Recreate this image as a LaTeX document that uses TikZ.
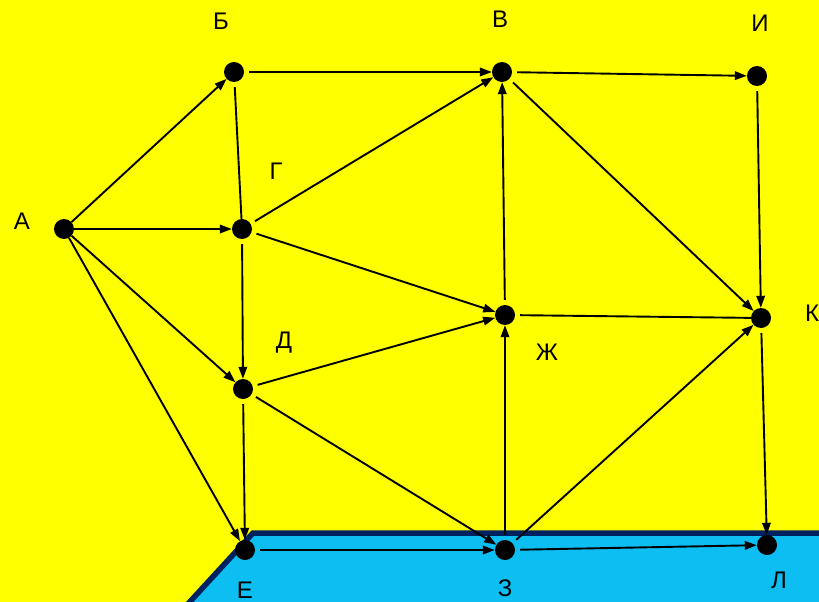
\documentclass[tikz,border=0pt]{standalone}
\usepackage{fontspec}
\setmainfont{Liberation Sans}
\usetikzlibrary{arrows.meta}
\definecolor{bgyellow}{RGB}{255,255,0}
\definecolor{seablue}{RGB}{12,190,242}
\definecolor{navy}{RGB}{0,33,95}
\begin{document}
\begin{tikzpicture}[x=1pt,y=-1pt,
  dot/.style={circle,fill=black,inner sep=0pt,minimum size=20pt},
  lbl/.style={inner sep=0pt,font=\fontsize{24}{27}\selectfont},
  arr/.style={line width=1.9pt,-{Triangle[length=12pt,width=8.5pt]},shorten <=5pt},
  arrA/.style={line width=1.9pt,-{Triangle[length=12pt,width=8.5pt]}},
  plain/.style={line width=1.9pt,shorten <=5pt}]
\fill[bgyellow] (0,0) rectangle (819,602);
\useasboundingbox (0,0) rectangle (819,602);
\filldraw[fill=seablue,draw=navy,line width=5.5pt] (186,606) -- (253,533) -- (825,533) -- (825,606) -- cycle;
% nodes
\node[dot] (A) at (64,229) {};
\node[dot] (B) at (234,72) {};
\node[dot] (V) at (502,72) {};
\node[dot] (I) at (757,76) {};
\node[dot] (G) at (242,229) {};
\node[dot] (Zh) at (505,315) {};
\node[dot] (K) at (761,318) {};
\node[dot] (D) at (243,389) {};
\node[dot] (E) at (245,550) {};
\node[dot] (Z) at (505,550) {};
\node[dot] (L) at (767,545) {};
% labels
\node[lbl] (lA) at (22,221) {А};
\node[lbl] (lB) at (221,21) {Б};
\node[lbl] (lV) at (500,19) {В};
\node[lbl] (lI) at (760,23) {И};
\node[lbl] (lG) at (276,171) {Г};
\node[lbl] (lD) at (284,343) {Д};
\node[lbl] (lZh) at (547,352) {Ж};
\node[lbl] (lK) at (812,313) {К};
\node[lbl] (lE) at (245,590) {Е};
\node[lbl] (lZ) at (505,588) {З};
\node[lbl] (lL) at (779,580) {Л};
% edges
\draw[arrA] (A) -- (B);
\draw[arrA] (A) -- (G);
\draw[arrA] (A) -- (D);
\draw[arrA] (A) -- (E);
\draw[arr] (B) -- (V);
\draw[plain] (B) -- (G);
\draw[arr] (V) -- (I);
\draw[arr] (V) -- (K);
\draw[arr] (G) -- (V);
\draw[arr] (G) -- (Zh);
\draw[arr] (G) -- (D);
\draw[arr] (D) -- (Zh);
\draw[arr] (D) -- (Z);
\draw[arr] (D) -- (E);
\draw[arr] (Zh) -- (V);
\draw[plain] (Zh) -- (K);
\draw[arr] (Z) -- (Zh);
\draw[arr] (Z) -- (K);
\draw[arr] (Z) -- (L);
\draw[arr] (E) -- (Z);
\draw[arr] (I) -- (K);
\draw[arr] (K) -- (L);
\end{tikzpicture}
\end{document}
